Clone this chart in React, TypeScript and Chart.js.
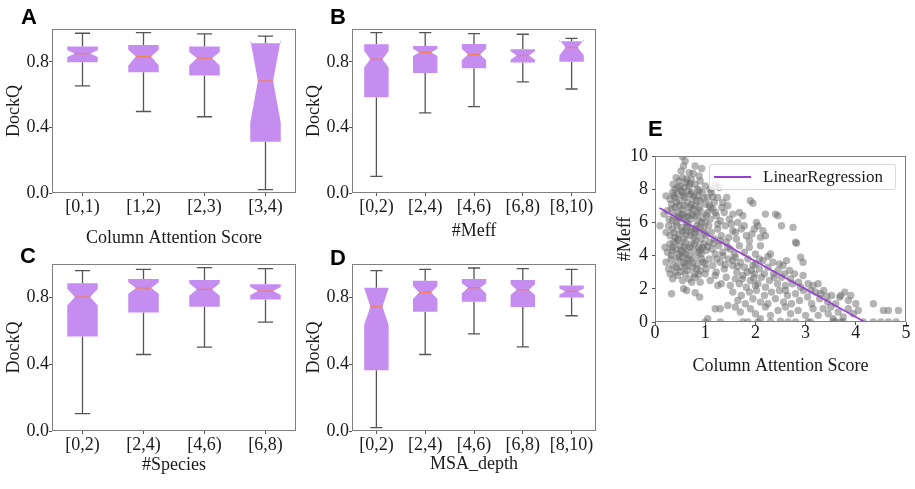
import React, { useEffect, useRef } from 'react';
import { Chart, registerables } from 'chart.js';

Chart.register(...registerables);

// ---------- shared tick values ----------
const boxYTicks = [0, 0.4, 0.8];
const eXTicks = [0, 1, 2, 3, 4, 5];
const eYTicks = [0, 2, 4, 6, 8, 10];

// ---------- Panel A: Column Attention Score ----------
const aCats = ['[0,1)', '[1,2)', '[2,3)', '[3,4)'];
const aWhiskerHi = [0.974, 0.978, 0.970, 0.957];
const aQ3 = [0.893, 0.903, 0.893, 0.913];
const aNotchHi = [0.870, 0.873, 0.859, 0.937];
const aMedian = [0.850, 0.832, 0.822, 0.683];
const aNotchLo = [0.830, 0.778, 0.778, 0.428];
const aQ1 = [0.798, 0.737, 0.717, 0.313];
const aWhiskerLo = [0.653, 0.497, 0.465, 0.020];

// ---------- Panel B: #Meff ----------
const bCats = ['[0,2)', '[2,4)', '[4,6)', '[6,8)', '[8,10)'];
const bWhiskerHi = [0.978, 0.978, 0.972, 0.968, 0.943];
const bQ3 = [0.907, 0.897, 0.909, 0.877, 0.925];
const bNotchHi = [0.866, 0.879, 0.879, 0.864, 0.936];
const bMedian = [0.816, 0.857, 0.844, 0.838, 0.887];
const bNotchLo = [0.766, 0.835, 0.809, 0.812, 0.838];
const bQ1 = [0.584, 0.731, 0.760, 0.796, 0.800];
const bWhiskerLo = [0.101, 0.489, 0.527, 0.677, 0.634];

// ---------- Panel C: #Species ----------
const cCats = ['[0,2)', '[2,4)', '[4,6)', '[6,8)'];
const cWhiskerHi = [0.960, 0.968, 0.978, 0.972];
const cQ3 = [0.884, 0.910, 0.904, 0.878];
const cNotchHi = [0.852, 0.890, 0.884, 0.862];
const cMedian = [0.802, 0.856, 0.848, 0.838];
const cNotchLo = [0.752, 0.822, 0.810, 0.814];
const cQ1 = [0.566, 0.710, 0.744, 0.788];
const cWhiskerLo = [0.104, 0.458, 0.502, 0.652];

// ---------- Panel D: MSA_depth ----------
const dCats = ['[0,2)', '[2,4)', '[4,6)', '[6,8)', '[8,10)'];
const dWhiskerHi = [0.960, 0.968, 0.976, 0.972, 0.968];
const dQ3 = [0.858, 0.900, 0.910, 0.904, 0.872];
const dNotchHi = [0.856, 0.868, 0.884, 0.878, 0.854];
const dMedian = [0.744, 0.830, 0.858, 0.846, 0.836];
const dNotchLo = [0.634, 0.790, 0.824, 0.814, 0.818];
const dQ1 = [0.364, 0.714, 0.774, 0.742, 0.800];
const dWhiskerLo = [0.020, 0.458, 0.582, 0.504, 0.690];

// ---------- Panel E: scatter (Column Attention Score, #Meff) ----------
const eRegX = [0.09, 4.18];
const eRegY = [6.87, 0.0];
const ePoints: number[][] = [
  [0.55, 9.95], [0.6, 9.7], [0.57, 9.4], [0.8, 9.4], [0.93, 9.25], [0.52, 9.1], [0.68, 9.0],
  [0.42, 8.7], [0.36, 8.3], [0.48, 8.5], [0.55, 8.7], [0.62, 8.4], [0.72, 8.6], [0.8, 8.3], [0.9, 8.5], [1.0, 8.2], [1.1, 8.0], [1.28, 8.1], [0.45, 8.1], [0.58, 8.1], [0.68, 8.2], [0.85, 8.0], [0.4, 8.0], [1.2, 8.25],
  [0.22, 7.6], [0.3, 7.4], [0.35, 7.8], [0.4, 7.5], [0.45, 7.7], [0.5, 7.3], [0.55, 7.8], [0.6, 7.5], [0.64, 7.2], [0.7, 7.7], [0.75, 7.4], [0.8, 7.0], [0.85, 7.6], [0.9, 7.3], [0.95, 7.8], [1.0, 7.1], [1.05, 7.5], [1.12, 7.8], [1.18, 7.2], [1.25, 7.5], [1.35, 7.2], [1.45, 7.0], [0.33, 7.1], [0.48, 7.0], [0.58, 7.0], [0.72, 7.05], [0.88, 7.9], [1.08, 7.05], [1.43, 7.5], [1.9, 7.3], [1.95, 7.15],
  [0.18, 6.5], [0.25, 6.7], [0.28, 6.2], [0.33, 6.8], [0.38, 6.4], [0.42, 6.0], [0.46, 6.6], [0.5, 6.2], [0.55, 6.8], [0.6, 6.3], [0.62, 6.0], [0.67, 6.6], [0.72, 6.2], [0.76, 6.8], [0.8, 6.4], [0.86, 6.1], [0.9, 6.7], [0.95, 6.3], [1.0, 6.0], [1.05, 6.6], [1.1, 6.2], [1.15, 6.8], [1.22, 6.4], [1.3, 6.1], [1.38, 6.6], [1.48, 6.2], [1.55, 6.5], [1.65, 6.0], [1.75, 6.4], [2.02, 6.0], [2.2, 6.5], [2.4, 6.5], [2.45, 6.4], [0.35, 6.1], [0.52, 6.5], [0.7, 6.9],
  [0.1, 5.8], [0.22, 5.4], [0.27, 5.8], [0.3, 5.2], [0.35, 5.6], [0.4, 5.1], [0.44, 5.8], [0.48, 5.3], [0.53, 5.7], [0.57, 5.0], [0.61, 5.5], [0.66, 5.9], [0.7, 5.2], [0.74, 5.6], [0.78, 5.1], [0.83, 5.8], [0.87, 5.4], [0.92, 5.0], [0.97, 5.6], [1.02, 5.2], [1.07, 5.8], [1.12, 5.4], [1.18, 5.0], [1.25, 5.6], [1.32, 5.2], [1.4, 5.8], [1.47, 5.1], [1.55, 5.5], [1.62, 5.0], [1.72, 5.6], [1.82, 5.2], [1.98, 5.6], [2.05, 5.8], [2.1, 5.1], [2.2, 5.2], [2.15, 5.5], [2.52, 5.8], [2.75, 5.7], [0.62, 5.25], [0.8, 5.35],
  [0.2, 4.5], [0.25, 4.2], [0.3, 4.7], [0.34, 4.3], [0.38, 4.8], [0.42, 4.4], [0.46, 4.1], [0.5, 4.6], [0.55, 4.2], [0.6, 4.8], [0.64, 4.4], [0.68, 4.0], [0.72, 4.7], [0.77, 4.3], [0.82, 4.9], [0.87, 4.5], [0.92, 4.1], [0.97, 4.7], [1.02, 4.3], [1.08, 4.8], [1.14, 4.4], [1.2, 4.1], [1.27, 4.6], [1.35, 4.2], [1.42, 4.8], [1.5, 4.4], [1.58, 4.1], [1.68, 4.6], [1.78, 4.2], [1.88, 4.5], [2.0, 4.1], [2.1, 4.6], [2.8, 4.8], [2.82, 4.75], [2.3, 4.1], [0.58, 4.55], [0.9, 4.35],
  [0.22, 3.6], [0.27, 3.2], [0.32, 3.8], [0.36, 3.4], [0.4, 3.0], [0.45, 3.7], [0.5, 3.3], [0.55, 3.9], [0.6, 3.5], [0.65, 3.1], [0.7, 3.7], [0.75, 3.3], [0.8, 3.9], [0.85, 3.5], [0.9, 3.1], [0.96, 3.6], [1.02, 3.2], [1.08, 3.8], [1.15, 3.4], [1.22, 3.0], [1.3, 3.6], [1.38, 3.2], [1.46, 3.8], [1.55, 3.4], [1.63, 3.0], [1.7, 3.6], [1.78, 3.3], [1.85, 3.8], [1.92, 3.1], [2.0, 3.5], [2.08, 3.2], [2.15, 3.7], [2.25, 3.3], [2.35, 3.6], [2.45, 3.1], [2.55, 3.4], [2.62, 3.7], [2.9, 3.9], [2.95, 3.6], [1.95, 3.4], [1.6, 3.9],
  [0.3, 2.9], [0.35, 2.6], [0.45, 2.8], [0.55, 2.5], [0.6, 2.9], [0.68, 2.6], [0.73, 2.4], [0.8, 2.7], [0.9, 2.4], [1.0, 2.9], [1.1, 2.5], [1.2, 2.8], [1.32, 2.3], [1.42, 2.7], [1.5, 2.2], [1.6, 2.6], [1.68, 2.3], [1.75, 2.8], [1.82, 2.1], [1.9, 2.5], [1.98, 2.9], [2.05, 2.3], [2.12, 2.7], [2.2, 2.1], [2.28, 2.5], [2.36, 2.9], [2.44, 2.3], [2.52, 2.7], [2.6, 2.2], [2.7, 2.6], [2.78, 2.9], [2.86, 2.4], [2.95, 2.8], [3.05, 2.3], [3.15, 2.2], [3.25, 2.3], [1.25, 2.2], [2.0, 2.2],
  [0.33, 1.7], [0.57, 2.0], [0.63, 1.9], [0.8, 1.76], [0.89, 1.5], [1.55, 1.8], [1.65, 1.3], [1.72, 1.6], [1.8, 1.1], [1.88, 1.8], [1.95, 1.4], [2.02, 1.9], [2.1, 1.2], [2.18, 1.6], [2.25, 1.1], [2.32, 1.8], [2.4, 1.4], [2.48, 1.9], [2.56, 1.2], [2.64, 1.6], [2.72, 1.1], [2.8, 1.7], [2.88, 1.3], [2.96, 1.9], [3.04, 1.5], [3.12, 1.1], [3.2, 1.8], [3.28, 1.4], [3.36, 1.9], [3.44, 1.2], [3.52, 1.6], [3.6, 1.1], [3.68, 1.5], [3.78, 1.8], [3.85, 1.3], [3.7, 1.6], [3.9, 1.6], [4.0, 1.1], [1.45, 1.0], [2.6, 1.9],
  [1.05, 0.2], [1.2, 0.8], [1.3, 0.8], [1.6, 0.9], [1.7, 0.6], [1.9, 0.8], [2.0, 0.5], [2.2, 0.9], [2.3, 0.4], [2.45, 0.7], [2.6, 0.9], [2.7, 0.5], [2.85, 0.7], [3.0, 0.4], [3.15, 0.8], [3.25, 0.4], [3.35, 0.8], [3.45, 0.5], [3.55, 0.2], [3.65, 0.6], [3.75, 0.3], [3.85, 0.8], [3.95, 0.5], [4.05, 0.7], [4.35, 1.1], [4.55, 0.7], [4.65, 0.7], [4.85, 0.7], [3.5, 0.9], [2.1, 0.2],
  [1.0, 0.0], [1.3, 0.0], [1.75, 0.0], [1.85, 0.0], [2.05, 0.0], [2.3, 0.0], [2.5, 0.05], [2.65, 0.0], [2.8, 0.0], [3.05, 0.0], [3.1, 0.0], [3.55, 0.05], [3.6, 0.0], [3.7, 0.0], [3.75, 0.0], [4.15, 0.0], [4.35, 0.0], [4.5, 0.0], [4.65, 0.0], [4.8, 0.0],
  [0.37, 7.6], [0.43, 7.2], [0.52, 7.9], [0.57, 7.6], [0.66, 7.9], [0.73, 7.8], [0.78, 7.6], [0.83, 7.3], [0.88, 6.9], [0.97, 7.45], [0.4, 6.9], [0.47, 6.3], [0.56, 6.45], [0.65, 6.35], [0.74, 6.45], [0.84, 6.55], [0.93, 6.0], [1.02, 6.45], [0.38, 5.4], [0.46, 5.0], [0.54, 5.45], [0.63, 5.7], [0.72, 5.45], [0.81, 5.6], [0.9, 5.7], [0.99, 5.35], [0.35, 4.5], [0.44, 4.9], [0.52, 4.3], [0.61, 4.1], [0.7, 4.5], [0.79, 4.7], [0.88, 4.2], [0.95, 4.5], [1.05, 4.55], [0.33, 4.0], [0.48, 3.9], [0.57, 3.6], [0.66, 3.8], [0.74, 3.55], [0.83, 3.2], [0.93, 3.8], [1.0, 3.5], [0.42, 3.3], [0.52, 3.05], [0.62, 3.35], [0.78, 2.9], [0.87, 2.85], [0.5, 8.2], [0.63, 8.6], [0.76, 8.95], [0.88, 8.8], [0.7, 8.35], [1.15, 7.55], [1.1, 6.9], [1.2, 6.6], [1.25, 5.9], [1.17, 4.75], [1.3, 4.9], [1.23, 3.8], [1.35, 4.0], [1.4, 3.45],
  [1.33, 6.9], [1.52, 5.9], [1.6, 5.4], [1.68, 6.6], [1.78, 5.8], [1.88, 4.9], [1.93, 5.3], [1.45, 4.5], [1.55, 3.7], [1.65, 3.35], [1.74, 2.6], [1.84, 3.0], [1.97, 2.65], [2.08, 3.8], [2.18, 2.9], [2.25, 3.95], [2.38, 2.7], [2.48, 3.5], [2.58, 2.9], [2.68, 3.1], [2.74, 2.3], [2.9, 2.1], [3.1, 1.9], [3.3, 1.7], [3.42, 1.55],
];

// ---------- styles ----------
const SERIF = "'Liberation Serif', 'Times New Roman', serif";
const SANS = "'Liberation Sans', Arial, sans-serif";
const BOX_FILL = 'rgb(197,141,240)';
const MEDIAN_COLOR = 'rgb(240,128,96)';
const WHISKER_COLOR = '#555555';
const FRAME_COLOR = '#808080';
const TEXT_COLOR = '#1a1a1a';
const REG_COLOR = '#9a3fd1';
const POINT_COLOR = 'rgba(106,106,106,0.5)';
const BOX_WIDTH = 0.5;

type BoxSeries = {
  cats: string[];
  lo: number[];
  q1: number[];
  nLo: number[];
  med: number[];
  nHi: number[];
  q3: number[];
  hi: number[];
};

const framePlugin = {
  id: 'frame',
  afterDraw(chart: any) {
    const { ctx, chartArea: a } = chart;
    ctx.save();
    ctx.strokeStyle = FRAME_COLOR;
    ctx.lineWidth = 1;
    const l = Math.round(a.left) + 0.5;
    const t = Math.round(a.top) + 0.5;
    const r = Math.round(a.right) - 0.5;
    const b = Math.round(a.bottom) - 0.5;
    ctx.strokeRect(l, t, r - l, b - t);
    ctx.restore();
  },
};

function boxPlugin(s: BoxSeries) {
  return {
    id: 'notchedBoxes',
    afterDatasetsDraw(chart: any) {
      const { ctx } = chart;
      const x = chart.scales.x;
      const y = chart.scales.y;
      const unit = x.getPixelForValue(1) - x.getPixelForValue(0);
      const hw = (unit * BOX_WIDTH) / 2;
      const nw = (unit * BOX_WIDTH) / 4;
      const Y = (v: number) => y.getPixelForValue(v);
      ctx.save();
      s.med.forEach((m, i) => {
        const cx = x.getPixelForValue(i);
        // whiskers + caps
        ctx.strokeStyle = WHISKER_COLOR;
        ctx.lineWidth = 1.3;
        ctx.beginPath();
        ctx.moveTo(cx, Y(s.q1[i]));
        ctx.lineTo(cx, Y(s.lo[i]));
        ctx.moveTo(cx, Y(s.q3[i]));
        ctx.lineTo(cx, Y(s.hi[i]));
        ctx.moveTo(cx - nw, Y(s.lo[i]));
        ctx.lineTo(cx + nw, Y(s.lo[i]));
        ctx.moveTo(cx - nw, Y(s.hi[i]));
        ctx.lineTo(cx + nw, Y(s.hi[i]));
        ctx.stroke();
        // notched box
        ctx.fillStyle = BOX_FILL;
        ctx.beginPath();
        ctx.moveTo(cx - hw, Y(s.q1[i]));
        ctx.lineTo(cx + hw, Y(s.q1[i]));
        ctx.lineTo(cx + hw, Y(s.nLo[i]));
        ctx.lineTo(cx + nw, Y(m));
        ctx.lineTo(cx + hw, Y(s.nHi[i]));
        ctx.lineTo(cx + hw, Y(s.q3[i]));
        ctx.lineTo(cx - hw, Y(s.q3[i]));
        ctx.lineTo(cx - hw, Y(s.nHi[i]));
        ctx.lineTo(cx - nw, Y(m));
        ctx.lineTo(cx - hw, Y(s.nLo[i]));
        ctx.closePath();
        ctx.fill();
        // median
        ctx.strokeStyle = MEDIAN_COLOR;
        ctx.lineWidth = 1.3;
        ctx.beginPath();
        ctx.moveTo(cx - nw, Y(m));
        ctx.lineTo(cx + nw, Y(m));
        ctx.stroke();
      });
      ctx.restore();
    },
  };
}

const tickGrid = {
  display: true,
  drawOnChartArea: false,
  drawTicks: true,
  tickLength: 3,
  color: '#555555',
  offset: false,
};

function boxConfig(
  s: BoxSeries,
  xTitle: string,
  padTop: number,
  xHeight: number,
  xTickPad: number,
  xTitlePad: number
): any {
  return {
    type: 'line',
    data: {
      labels: s.cats,
      datasets: [{ data: s.med, showLine: false, pointRadius: 0, pointHoverRadius: 0 }],
    },
    options: {
      responsive: false,
      animation: false,
      events: [],
      layout: { padding: { top: padTop, right: 4, left: 0, bottom: 0 } },
      plugins: { legend: { display: false }, tooltip: { enabled: false } },
      scales: {
        x: {
          type: 'category',
          offset: true,
          grid: tickGrid,
          border: { display: false },
          ticks: {
            color: TEXT_COLOR,
            font: { family: SERIF, size: 18 },
            padding: xTickPad,
            maxRotation: 0,
            autoSkip: false,
          },
          title: {
            display: true,
            text: xTitle,
            color: TEXT_COLOR,
            font: { family: SERIF, size: 18 },
            padding: { top: 0, bottom: xTitlePad },
          },
          afterFit: (sc: any) => {
            sc.height = xHeight;
          },
        },
        y: {
          type: 'linear',
          min: 0,
          max: 1,
          grid: tickGrid,
          border: { display: false },
          afterBuildTicks: (sc: any) => {
            sc.ticks = boxYTicks.map((v) => ({ value: v }));
          },
          ticks: {
            color: TEXT_COLOR,
            font: { family: SERIF, size: 18 },
            padding: 0,
            callback: (v: any) => Number(v).toFixed(1),
          },
          title: {
            display: true,
            text: 'DockQ',
            color: TEXT_COLOR,
            font: { family: SERIF, size: 18 },
            padding: { top: 3, bottom: 0 },
          },
          afterFit: (sc: any) => {
            sc.width = 52;
          },
        },
      },
    },
    plugins: [boxPlugin(s), framePlugin],
  };
}

function scatterConfig(): any {
  return {
    type: 'scatter',
    data: {
      datasets: [
        {
          type: 'line',
          label: 'LinearRegression',
          data: eRegX.map((x, i) => ({ x, y: eRegY[i] })),
          borderColor: REG_COLOR,
          borderWidth: 1.6,
          pointRadius: 0,
          pointHoverRadius: 0,
          fill: false,
          clip: 0,
          order: 0,
        },
        {
          type: 'scatter',
          label: 'points',
          data: ePoints.map(([x, y]) => ({ x, y })),
          pointRadius: 3.7,
          pointHoverRadius: 3.7,
          pointBackgroundColor: POINT_COLOR,
          pointBorderWidth: 0,
          pointBorderColor: 'rgba(0,0,0,0)',
          clip: 0,
          order: 1,
        },
      ],
    },
    options: {
      responsive: false,
      animation: false,
      events: [],
      layout: { padding: { top: 56, right: 9, left: 0, bottom: 0 } },
      plugins: { legend: { display: false }, tooltip: { enabled: false } },
      scales: {
        x: {
          type: 'linear',
          min: 0,
          max: 5,
          grid: tickGrid,
          border: { display: false },
          afterBuildTicks: (sc: any) => {
            sc.ticks = eXTicks.map((v) => ({ value: v }));
          },
          ticks: {
            color: TEXT_COLOR,
            font: { family: SERIF, size: 18 },
            padding: -3,
            maxRotation: 0,
            callback: (v: any) => String(v),
          },
          title: {
            display: true,
            text: 'Column Attention Score',
            color: TEXT_COLOR,
            font: { family: SERIF, size: 18 },
            padding: { top: 0, bottom: 3 },
          },
          afterFit: (sc: any) => {
            sc.height = 58;
          },
        },
        y: {
          type: 'linear',
          min: 0,
          max: 10,
          grid: tickGrid,
          border: { display: false },
          afterBuildTicks: (sc: any) => {
            sc.ticks = eYTicks.map((v) => ({ value: v }));
          },
          ticks: {
            color: TEXT_COLOR,
            font: { family: SERIF, size: 18 },
            padding: 4,
            callback: (v: any) => String(v),
          },
          title: {
            display: true,
            text: '#Meff',
            color: TEXT_COLOR,
            font: { family: SERIF, size: 18 },
            padding: { top: 14, bottom: 0 },
          },
          afterFit: (sc: any) => {
            sc.width = 55;
          },
        },
      },
    },
    plugins: [framePlugin],
  };
}

function ChartCanvas(props: { left: number; top: number; width: number; height: number; make: () => any }) {
  const ref = useRef<HTMLCanvasElement>(null);
  useEffect(() => {
    const chart = new Chart(ref.current as HTMLCanvasElement, props.make());
    return () => chart.destroy();
  }, []);
  return (
    <div style={{ position: 'absolute', left: props.left, top: props.top, width: props.width, height: props.height }}>
      <canvas ref={ref} width={props.width} height={props.height} style={{ width: props.width, height: props.height, display: 'block' }} />
    </div>
  );
}

const seriesA: BoxSeries = { cats: aCats, lo: aWhiskerLo, q1: aQ1, nLo: aNotchLo, med: aMedian, nHi: aNotchHi, q3: aQ3, hi: aWhiskerHi };
const seriesB: BoxSeries = { cats: bCats, lo: bWhiskerLo, q1: bQ1, nLo: bNotchLo, med: bMedian, nHi: bNotchHi, q3: bQ3, hi: bWhiskerHi };
const seriesC: BoxSeries = { cats: cCats, lo: cWhiskerLo, q1: cQ1, nLo: cNotchLo, med: cMedian, nHi: cNotchHi, q3: cQ3, hi: cWhiskerHi };
const seriesD: BoxSeries = { cats: dCats, lo: dWhiskerLo, q1: dQ1, nLo: dNotchLo, med: dMedian, nHi: dNotchHi, q3: dQ3, hi: dWhiskerHi };

const letterStyle = (left: number, top: number): React.CSSProperties => ({
  position: 'absolute',
  left,
  top,
  fontFamily: SANS,
  fontWeight: 'bold',
  fontSize: 22,
  lineHeight: '22px',
  color: '#000',
});

export default function App() {
  return (
    <div style={{ position: 'absolute', left: 0, top: 0, width: 915, height: 489, background: '#fff', overflow: 'hidden' }}>
      <ChartCanvas left={0} top={0} width={300} height={250} make={() => boxConfig(seriesA, 'Column Attention Score', 29, 57, 0, 1)} />
      <ChartCanvas left={300} top={0} width={300} height={250} make={() => boxConfig(seriesB, '#Meff', 29, 57, 0, 8)} />
      <ChartCanvas left={0} top={239} width={300} height={250} make={() => boxConfig(seriesC, '#Species', 25, 58, 0, 13)} />
      <ChartCanvas left={300} top={239} width={300} height={250} make={() => boxConfig(seriesD, 'MSA_depth', 25, 58, 0, 14)} />
      <ChartCanvas left={600} top={100} width={315} height={280} make={scatterConfig} />
      <div
        style={{
          position: 'absolute',
          left: 709,
          top: 164,
          width: 187,
          height: 26,
          boxSizing: 'border-box',
          border: '1px solid #d9d9d9',
          borderRadius: 3,
          background: 'rgba(255,255,255,0.8)',
        }}
      >
        <div style={{ position: 'absolute', left: 4, top: 11, width: 37, height: 1.6, background: REG_COLOR }} />
        <div
          style={{
            position: 'absolute',
            left: 53,
            top: 0,
            height: 24,
            lineHeight: '24px',
            fontFamily: SERIF,
            fontSize: 17,
            color: TEXT_COLOR,
            whiteSpace: 'nowrap',
          }}
        >
          LinearRegression
        </div>
      </div>
      <div style={letterStyle(21, 6)}>A</div>
      <div style={letterStyle(330, 6)}>B</div>
      <div style={letterStyle(20, 245)}>C</div>
      <div style={letterStyle(330, 247)}>D</div>
      <div style={letterStyle(648, 118)}>E</div>
    </div>
  );
}
